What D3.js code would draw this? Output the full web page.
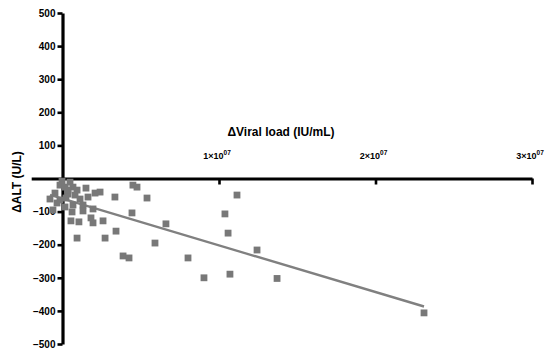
<!DOCTYPE html>
<html>
<head>
<meta charset="utf-8">
<script src="https://cdn.jsdelivr.net/npm/d3@7"></script>
<style>
  html, body { margin: 0; padding: 0; background: #fff; }
  svg { display: block; font-family: "Liberation Sans", Arial, sans-serif; font-weight: bold; }
</style>
</head>
<body>
<svg id="chart" width="545" height="350"></svg>
<script>
// Change in viral load (units of 10^6 IU/mL) for each patient
const viralLoadChange = [
  -0.80, -0.61, -0.48, -0.16, 0.16, 0.48, 0.67, 0.93, 0.35, 1.12,
  -0.16, 0.67, 1.31, 2.08, 2.40, 3.35, 1.95, 0.16, 0.61, 1.31,
  0.54, 1.05, 1.82, 1.95, 2.59, 0.93, 2.72, 3.42, 3.87, 4.25,
  4.50, 4.76, 5.40, 4.44, 6.61, 5.91, 8.02, 9.04, 10.70, 13.71,
  11.15, 10.38, 10.58, 12.43, 23.10, -0.03, 0.35, 1.63, -0.35, 1.50,
  0.22, 0.80
];
// Change in ALT (U/L) for the same patients
const altChange = [
  -62, -95, -44, -20, -26, -11, -26, -35, -47, -62,
  -65, -80, -80, -44, -41, -56, -92, -86, -101, -98,
  -128, -131, -119, -134, -128, -180, -180, -159, -234, -240,
  -20, -26, -59, -104, -137, -195, -240, -300, -289, -302,
  -50, -107, -165, -216, -406, -8, -35, -56, -74, -29,
  -59, -50
];
// Linear fit: ALT change = intercept + slope * (viral load change / 10^6)
const fitIntercept = -61;
const fitSlope = -14.1;

const xTicks = [1e7, 2e7, 3e7];
const xTickLabels = ["1×10", "2×10", "3×10"];
const xTickExponent = "07";
const yTicks = [500, 400, 300, 200, 100, 0, -100, -200, -300, -400, -500];

const points = viralLoadChange.map((v, i) => ({ x: v * 1e6, y: altChange[i] }));

const svg = d3.select("#chart");

const x = d3.scaleLinear().domain([-2e6, 3e7]).range([31.2, 532]);
const y = d3.scaleLinear().domain([-500, 500]).range([344, 13]);

const axisColor = "#000";
const markColor = "#787878";

// Y axis at x = 0
const yAxis = d3.axisLeft(y)
  .tickValues(yTicks)
  .tickFormat(d => d === 0 ? "" : d3.format("d")(d))
  .tickSizeInner(5)
  .tickSizeOuter(0)
  .tickPadding(2);

const gy = svg.append("g")
  .attr("transform", `translate(${x(0)},0)`)
  .call(yAxis);
gy.select(".domain").attr("stroke", axisColor).attr("stroke-width", 3.2);
gy.selectAll(".tick line").attr("stroke", axisColor).attr("stroke-width", 2.6);
gy.selectAll(".tick text").attr("fill", "#000").style("font-size", "10px").style("font-weight", "bold");
gy.selectAll(".tick").filter(d => d === 0).select("line").remove();

// X axis at y = 0, ticks pointing down, labels above
const xAxis = d3.axisBottom(x)
  .tickValues(xTicks)
  .tickFormat("")
  .tickSizeInner(6)
  .tickSizeOuter(0);

const gx = svg.append("g")
  .attr("transform", `translate(0,${y(0)})`)
  .call(xAxis);
gx.select(".domain").attr("stroke", axisColor).attr("stroke-width", 3.2);
gx.selectAll(".tick line").attr("stroke", axisColor).attr("stroke-width", 2.6);
gx.selectAll(".tick text").remove();

// X tick labels with superscript exponent
const xl = svg.append("g").selectAll("text")
  .data(xTicks)
  .join("text")
  .attr("x", d => x(d) - 2)
  .attr("y", y(0) - 20)
  .attr("text-anchor", "middle")
  .style("font-size", "9px")
  .style("font-weight", "bold");
xl.append("tspan").text((d, i) => xTickLabels[i]);
xl.append("tspan")
  .attr("dy", -3.5)
  .style("font-size", "6.5px")
  .text(xTickExponent);

// Fit line across the observed range
const xExt = d3.extent(viralLoadChange);
const fitLine = xExt.map(v => ({ x: v * 1e6, y: fitIntercept + fitSlope * v }));
svg.append("path")
  .datum(fitLine)
  .attr("fill", "none")
  .attr("stroke", "#808080")
  .attr("stroke-width", 2.4)
  .attr("d", d3.line().x(d => x(d.x)).y(d => y(d.y)));

// Data points as squares
const s = 6.8;
svg.append("g").selectAll("rect")
  .data(points)
  .join("rect")
  .attr("x", d => x(d.x) - s / 2)
  .attr("y", d => y(d.y) - s / 2)
  .attr("width", s)
  .attr("height", s)
  .attr("fill", markColor);

// Axis titles
svg.append("text")
  .attr("x", 281)
  .attr("y", 136)
  .attr("text-anchor", "middle")
  .style("font-size", "12px")
  .text("ΔViral load (IU/mL)");

svg.append("text")
  .attr("transform", `translate(21,182) rotate(-90)`)
  .attr("text-anchor", "middle")
  .style("font-size", "12px")
  .text("ΔALT (U/L)");
</script>
</body>
</html>
